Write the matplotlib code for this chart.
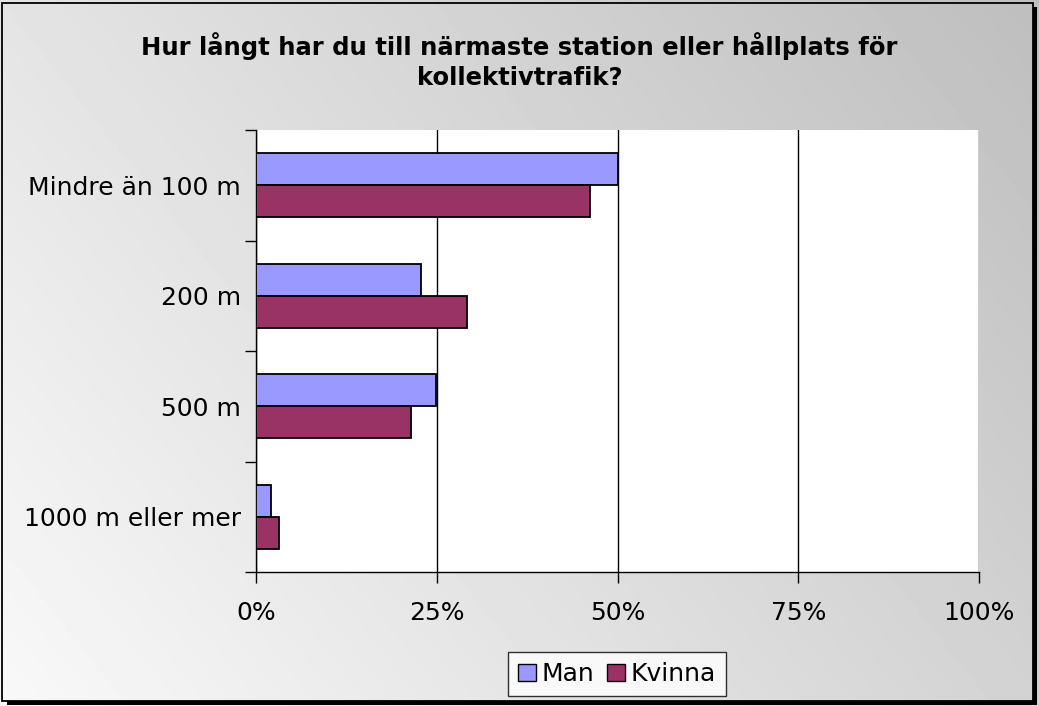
import numpy as np
import matplotlib
matplotlib.use("Agg")
import matplotlib.pyplot as plt
from matplotlib.patches import Rectangle
from matplotlib.ticker import FuncFormatter, FixedLocator

categories = ["Mindre än 100 m", "200 m", "500 m", "1000 m eller mer"]
man = [50.1, 22.8, 24.9, 2.1]
kvinna = [46.2, 29.2, 21.4, 3.2]
xticks = [0, 25, 50, 75, 100]
title = "Hur långt har du till närmaste station eller hållplats för\nkollektivtrafik?"

W, H = 1039, 706
fig = plt.figure(figsize=(W / 100, H / 100), dpi=100)
plt.rcParams['font.family'] = ['DejaVu Sans']

# background gradient
bg = fig.add_axes([0, 0, 1, 1], zorder=0)
yy, xx = np.mgrid[0:1:200j, 0:1:300j]
t = (xx * 0.65 + (1 - yy) * 0.35)
grad = 0.975 - 0.23 * t
bg.imshow(grad, cmap='gray', vmin=0, vmax=1, extent=[0, 1, 0, 1], aspect='auto', origin='upper')
bg.set_axis_off()
def px(x0, y0, x1, y1):
    return (x0 / W, 1 - y1 / H), (x1 - x0) / W, (y1 - y0) / H
xy, w, h = px(1033, 7, 1037, 705)
bg.add_patch(Rectangle(xy, w, h, transform=fig.transFigure, facecolor='#000000', edgecolor='none'))
xy, w, h = px(7, 701, 1037, 705)
bg.add_patch(Rectangle(xy, w, h, transform=fig.transFigure, facecolor='#000000', edgecolor='none'))
xy, w, h = px(2, 3, 1033, 701)
bg.add_patch(Rectangle(xy, w, h, transform=fig.transFigure, facecolor='none', edgecolor='#000000', lw=1.3))

# plot area
left, top, right, bottom = 256, 130, 979, 572
ax = fig.add_axes([left / W, 1 - bottom / H, (right - left) / W, (bottom - top) / H], zorder=1)
ax.set_facecolor('white')
n = len(categories)
ypos = np.arange(n)
bh = 0.29
ax.barh(ypos - bh / 2, man, height=bh, color='#9999FF', edgecolor='black', lw=1.3, label='Man', zorder=3)
ax.barh(ypos + bh / 2, kvinna, height=bh, color='#993366', edgecolor='black', lw=1.3, label='Kvinna', zorder=3)
ax.set_xlim(0, 100)
ax.set_ylim(n - 0.5, -0.5)
ax.xaxis.set_major_locator(FixedLocator(xticks))
ax.xaxis.set_major_formatter(FuncFormatter(lambda v, p: f"{v:.0f}%"))
ax.grid(axis='x', color='black', lw=1.0, zorder=1)
ax.set_yticks(ypos)
ax.set_yticklabels(categories)
ax.yaxis.set_minor_locator(FixedLocator(np.arange(-0.5, n, 1.0)))
ax.tick_params(axis='y', which='major', length=0, pad=11, labelsize=18)
ax.tick_params(axis='y', which='minor', length=8, width=1, color='black', direction='out')
ax.tick_params(axis='x', which='major', length=8, width=1, direction='out', pad=13, labelsize=18)
for s in ['top', 'right']:
    ax.spines[s].set_visible(False)
ax.spines['left'].set_linewidth(1.0)
ax.spines['bottom'].set_linewidth(1.0)

fig.text(0.5, 1 - 61 / H, title, ha='center', va='center', fontsize=17.5, fontweight='bold', linespacing=1.35)

leg = fig.legend(loc='center', bbox_to_anchor=(617 / W, 1 - 674 / H), ncol=2, frameon=True,
                 fontsize=18, handlelength=0.7, handleheight=0.7, handletextpad=0.25,
                 columnspacing=0.5, borderpad=0.4, fancybox=False, edgecolor='black')
leg.get_frame().set_linewidth(1.0)
leg.get_frame().set_facecolor('white')
for hdl in leg.legend_handles:
    hdl.set_linewidth(1.0)

fig.savefig('out.png', dpi=100)
